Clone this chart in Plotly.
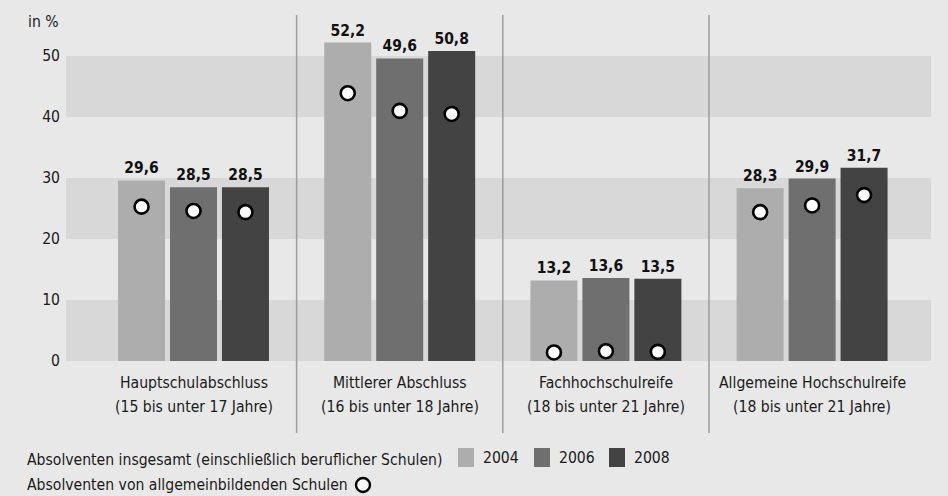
import plotly.graph_objects as go

# Data ---------------------------------------------------------------
abschluss = ["Hauptschulabschluss", "Mittlerer Abschluss",
             "Fachhochschulreife", "Allgemeine Hochschulreife"]
altersgruppe = ["(15 bis unter 17 Jahre)", "(16 bis unter 18 Jahre)",
                "(18 bis unter 21 Jahre)", "(18 bis unter 21 Jahre)"]
jahre = ["2004", "2006", "2008"]

# Absolventen insgesamt (einschließlich beruflicher Schulen), in %
insgesamt_2004 = [29.6, 52.2, 13.2, 28.3]
insgesamt_2006 = [28.5, 49.6, 13.6, 29.9]
insgesamt_2008 = [28.5, 50.8, 13.5, 31.7]

# Absolventen von allgemeinbildenden Schulen, in %
allgemein_2004 = [25.3, 43.9, 1.4, 24.4]
allgemein_2006 = [24.6, 41.0, 1.6, 25.5]
allgemein_2008 = [24.4, 40.5, 1.5, 27.2]

y_ticks = [0, 10, 20, 30, 40, 50]

# Styling -----------------------------------------------------------
bar_colors = ["#adadad", "#6f6f6f", "#434343"]
bg = "#e8e8e8"
band = "#d8d8d8"
sep_color = "#9d9d9d"
FONT = "DejaVu Sans Condensed"
FS = 15.6
txt = "#1a1a1a"

W, H = 948, 496
L, R, T, B = 66, 17, 15, 135
pw, ph = W - L - R, H - T - B
y_top = ph / 6.1  # 6.1 px per percentage point


def px(x):
    return (x - L) / pw


def py(y):
    return (H - B - y) / ph


insgesamt = [insgesamt_2004, insgesamt_2006, insgesamt_2008]
allgemein = [allgemein_2004, allgemein_2006, allgemein_2008]
xs = list(range(len(abschluss)))

slot = 0.252   # spacing between bars inside a group
width = 0.228  # bar width

fig = go.Figure()
for i, jahr in enumerate(jahre):
    shift = (i - 1) * slot
    fig.add_trace(go.Bar(
        x=xs, y=insgesamt[i], name=jahr,
        width=width, offset=shift - width / 2,
        marker=dict(color=bar_colors[i], line=dict(width=0)),
        texttemplate="%{y:.1f}", textposition="outside",
        textfont=dict(family=FONT, size=15.5, color="#111", weight="bold"),
        constraintext="none", cliponaxis=False,
        showlegend=False, hoverinfo="skip",
    ))
for i, jahr in enumerate(jahre):
    shift = (i - 1) * slot
    fig.add_trace(go.Scatter(
        x=[x + shift for x in xs], y=allgemein[i], mode="markers",
        marker=dict(size=14, color="white", line=dict(color="black", width=2.6)),
        showlegend=False, hoverinfo="skip", cliponaxis=False,
    ))

shapes = []
# horizontal background bands
for lo in (0, 20, 40):
    shapes.append(dict(type="rect", xref="paper", yref="y", x0=0, x1=1,
                       y0=lo, y1=lo + 10, fillcolor=band, line=dict(width=0),
                       layer="below"))
# vertical separators between groups
for s in (0.5, 1.5, 2.5):
    shapes.append(dict(type="line", xref="x", yref="paper", x0=s, x1=s,
                       y0=py(433), y1=1, line=dict(color=sep_color, width=1.5)))

annotations = [dict(text="in %", xref="paper", yref="paper", x=px(61), y=py(22),
                    xanchor="right", yanchor="middle", showarrow=False,
                    font=dict(family=FONT, size=FS, color=txt))]
# category labels (two lines)
for x, name, age in zip(xs, abschluss, altersgruppe):
    annotations.append(dict(text=name, xref="x", yref="paper", x=x, y=py(383),
                            xanchor="center", yanchor="middle", showarrow=False,
                            font=dict(family=FONT, size=FS, color=txt)))
    annotations.append(dict(text=age, xref="x", yref="paper", x=x, y=py(407),
                            xanchor="center", yanchor="middle", showarrow=False,
                            font=dict(family=FONT, size=FS, color=txt)))

# legend
annotations.append(dict(text="Absolventen insgesamt (einschließlich beruflicher Schulen)",
                        xref="paper", yref="paper", x=px(25), y=py(460),
                        xanchor="left", yanchor="middle", showarrow=False,
                        font=dict(family=FONT, size=FS, color=txt)))
annotations.append(dict(text="Absolventen von allgemeinbildenden Schulen",
                        xref="paper", yref="paper", x=px(25), y=py(485),
                        xanchor="left", yanchor="middle", showarrow=False,
                        font=dict(family=FONT, size=FS, color=txt)))
sq_left = [458, 534, 609]
for i, jahr in enumerate(jahre):
    x0 = sq_left[i]
    shapes.append(dict(type="rect", xref="paper", yref="paper",
                       x0=px(x0), x1=px(x0 + 16), y0=py(467), y1=py(448),
                       fillcolor=bar_colors[i], line=dict(width=0)))
    annotations.append(dict(text=jahr, xref="paper", yref="paper", x=px(x0 + 23),
                            y=py(458), xanchor="left", yanchor="middle",
                            showarrow=False,
                            font=dict(family=FONT, size=FS, color=txt)))
shapes.append(dict(type="circle", xref="paper", yref="paper",
                   x0=px(356), x1=px(370), y0=py(492), y1=py(478),
                   fillcolor="white", line=dict(color="black", width=2.4)))

fig.update_layout(
    width=W, height=H,
    margin=dict(l=L, r=R, t=T, b=B, pad=0),
    paper_bgcolor=bg, plot_bgcolor=bg,
    separators=",.",
    barmode="overlay",
    font=dict(family=FONT, size=FS, color=txt),
    xaxis=dict(range=[(L - 66) / 206.2 - 127.5 / 206.2, (L + pw - 193.5) / 206.2],
               showgrid=False, zeroline=False, showticklabels=False,
               fixedrange=True),
    yaxis=dict(range=[0, y_top], tickvals=y_ticks, showgrid=False,
               zeroline=False, ticks="", ticklabelstandoff=5,
               tickfont=dict(family=FONT, size=FS, color=txt), fixedrange=True),
    shapes=shapes, annotations=annotations,
)

fig.write_html("out.html")
